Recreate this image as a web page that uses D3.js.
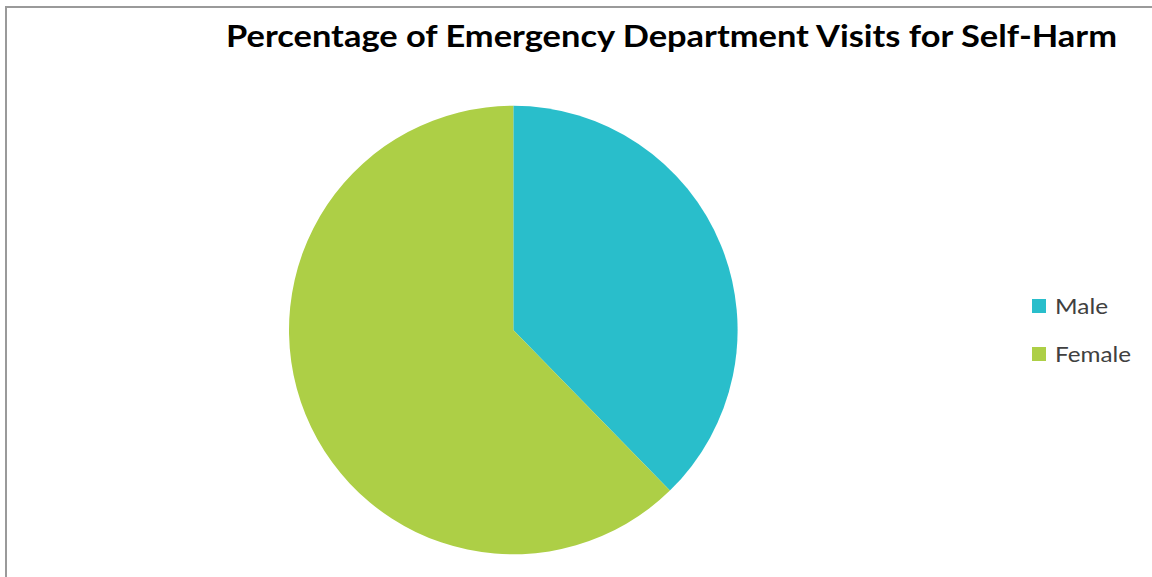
<!DOCTYPE html>
<html>
<head>
<meta charset="utf-8">
<script src="https://cdn.jsdelivr.net/npm/d3@7"></script>
<style>
  html, body { margin: 0; padding: 0; background: #fff; }
  svg { display: block; }
</style>
</head>
<body>
<svg id="chart" width="1152" height="577"></svg>
<script>
// Share of emergency department visits for self-harm, by sex
const categories = ["Male", "Female"];
const values = [37.7, 62.3];
const colors = ["#29BECB", "#ADCF46"];
const titleText = "Percentage of Emergency Department Visits for Self-Harm";

const svg = d3.select("#chart");
const W = 1152, H = 577;

// chart frame
svg.append("rect")
  .attr("x", 6).attr("y", 7)
  .attr("width", W + 10).attr("height", H + 10)
  .attr("fill", "#fff")
  .attr("stroke", "#9a9a9a")
  .attr("stroke-width", 2);

// title
svg.append("text")
  .attr("x", 671.5).attr("y", 47)
  .attr("text-anchor", "middle")
  .attr("font-family", "Lato, 'Open Sans', sans-serif")
  .attr("font-weight", "bold")
  .attr("font-size", 30)
  .attr("fill", "#000")
  .attr("textLength", 891)
  .attr("lengthAdjust", "spacingAndGlyphs")
  .text(titleText);

// pie
const cx = 513.3, cy = 330, r = 224.3;
const data = categories.map((c, i) => ({ name: c, value: values[i], color: colors[i] }));
const pie = d3.pie().value(d => d.value).sort(null);
const arc = d3.arc().innerRadius(0).outerRadius(r);

svg.append("g")
  .attr("transform", `translate(${cx},${cy})`)
  .selectAll("path")
  .data(pie(data))
  .join("path")
  .attr("d", arc)
  .attr("fill", d => d.data.color);

// legend
const legendY = d3.scalePoint().domain(categories).range([306, 354]);
const legend = svg.append("g")
  .selectAll("g")
  .data(data)
  .join("g")
  .attr("transform", d => `translate(1032,${legendY(d.name)})`);

legend.append("rect")
  .attr("x", 0).attr("y", -7)
  .attr("width", 14).attr("height", 14)
  .attr("fill", d => d.color);

const legendWidths = { Male: 53, Female: 76 };
legend.append("text")
  .attr("x", 23).attr("y", 8)
  .attr("font-family", "Lato, 'Open Sans', sans-serif")
  .attr("font-size", 22)
  .attr("fill", "#404040")
  .attr("textLength", d => legendWidths[d.name])
  .attr("lengthAdjust", "spacingAndGlyphs")
  .text(d => d.name);
</script>
</body>
</html>
